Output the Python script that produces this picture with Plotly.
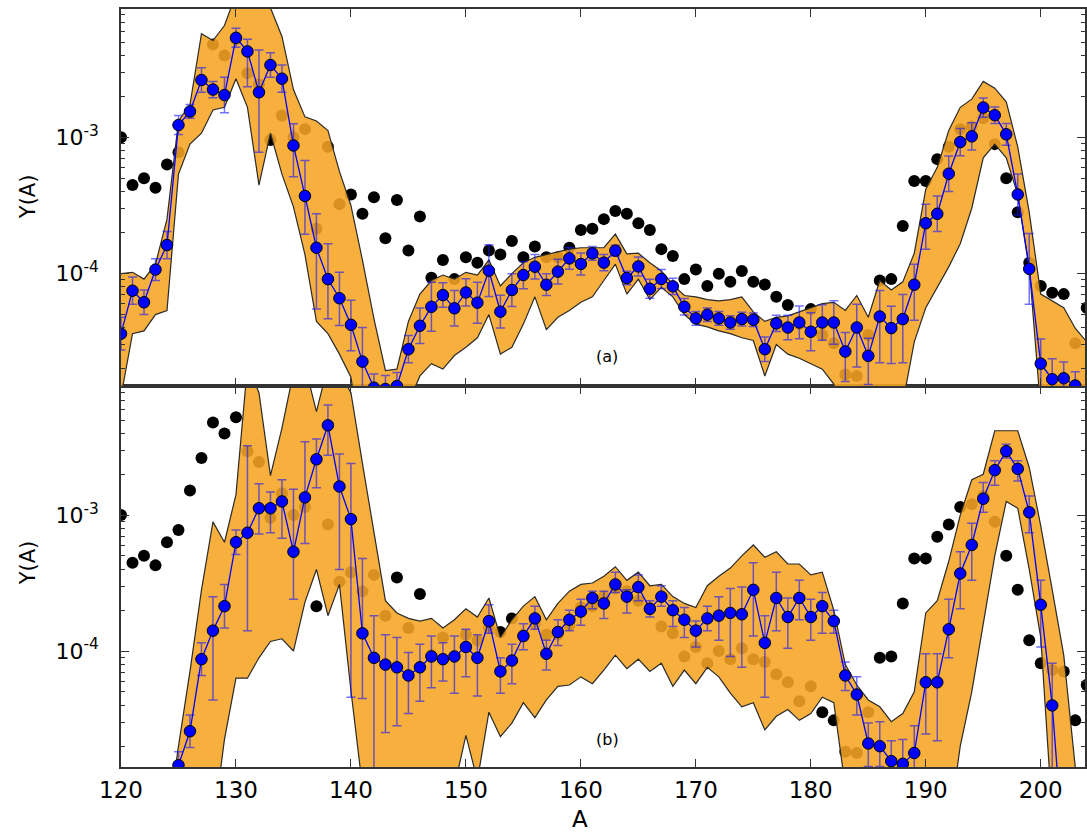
import plotly.graph_objects as go

# ---------------- data (log10 of Y(A)) ----------------
A_model = list(range(120, 204))          # blue points, panel (a)
a_model_log = [-4.44, -4.125, -4.21, -3.97, -3.79, -2.91, -2.81, -2.58, -2.65, -2.69,
               -2.27, -2.37, -2.67, -2.47, -2.57, -3.06, -3.43, -3.81, -4.04, -4.18,
               -4.375, -4.645, -4.836, -4.846, -4.824, -4.554, -4.382, -4.243, -4.157, -4.254,
               -4.138, -4.213, -3.978, -4.279, -4.12, -4.01, -3.949, -4.081, -3.985, -3.888,
               -3.929, -3.851, -3.919, -3.831, -4.032, -3.947, -4.111, -4.039, -4.093, -4.243,
               -4.328, -4.301, -4.328, -4.358, -4.333, -4.338, -4.554, -4.365, -4.395, -4.358,
               -4.426, -4.358, -4.358, -4.571, -4.395, -4.603, -4.314, -4.399, -4.333, -4.081,
               -3.63, -3.561, -3.267, -3.035, -2.993, -2.782, -2.838, -2.978, -3.419, -3.965,
               -4.66, -4.774, -4.767, -4.82]
a_err_up = [.12, .10, .09, .08, .10, .07, .05, .09, .06, .13,
            .07, .09, .31, .09, .10, .16, .26, .25, .26, .19,
            .18, .25, .10, .10, .10, .10, .13, .18, .09, .13,
            .10, .15, .19, .12, .12, .10, .09, .08, .09, .08,
            .08, .05, .06, .04, .05, .07, .07, .07, .06, .06,
            .05, .05, .05, .05, .05, .05, .09, .06, .09, .12,
            .14, .13, .16, .14, .17, .13, .19, .16, .18, .15,
            .14, .13, .13, .10, .10, .07, .06, .08, .15, .26,
            .18, .15, .12, .10]
a_err_dn = [.12, .10, .09, .08, .10, .07, .05, .09, .06, .13,
            .07, .26, .44, .09, .10, .23, .28, .45, .29, .20,
            .19, .19, .10, .10, .10, .10, .13, .18, .09, .13,
            .10, .15, .19, .12, .12, .10, .09, .08, .09, .08,
            .08, .05, .06, .04, .05, .07, .07, .07, .06, .06,
            .05, .05, .05, .05, .05, .05, .09, .06, .09, .12,
            .14, .13, .16, .22, .29, .21, .34, .26, .32, .26,
            .19, .13, .13, .10, .10, .07, .06, .08, .15, .26,
            .18, .15, .12, .10]

A_model_b = list(range(124, 203))        # blue points, panel (b)
b_model_log = [-5.3, -4.84, -4.59, -4.06, -3.85, -3.67, -3.20, -3.13, -2.95, -2.95,
               -2.90, -3.27, -2.87, -2.59, -2.34, -2.79, -3.03, -3.87, -4.05, -4.10,
               -4.12, -4.18, -4.12, -4.04, -4.06, -4.04, -3.97, -4.05, -3.78, -4.15,
               -4.07, -3.89, -3.76, -4.02, -3.86, -3.77, -3.71, -3.61, -3.65, -3.51,
               -3.60, -3.53, -3.69, -3.60, -3.70, -3.77, -3.85, -3.76, -3.74, -3.72,
               -3.73, -3.55, -3.94, -3.61, -3.75, -3.61, -3.75, -3.67, -3.78, -4.18,
               -4.32, -4.68, -4.70, -4.81, -4.83, -4.75, -4.23, -4.23, -3.84, -3.43,
               -3.22, -2.88, -2.67, -2.53, -2.66, -2.98, -3.66, -4.40, -5.5]
b_err_up = [.10, .10, .12, .12, .25, .16, .09, .64, .18, .12,
            .16, .46, .41, .15, .15, .24, .41, .55, .31, .22,
            .22, .17, .17, .15, .12, .15, .13, .17, .12, .10,
            .12, .09, .09, .10, .09, .07, .09, .05, .09, .09,
            .05, .09, .06, .08, .07, .09, .07, .09, .14, .18,
            .20, .20, .20, .19, .14, .13, .13, .10, .08, .10,
            .13, .15, .18, .15, .18, .20, .21, .21, .22, .16,
            .16, .12, .07, .05, .06, .12, .18, .31, .10]
b_err_dn = [.10, .10, .12, .12, .51, .16, .09, .72, .19, .18,
            .27, .35, .34, .21, .22, .61, 1.31, .48, 1.5, .50,
            .43, .28, .25, .23, .16, .27, .22, .28, .09, .16,
            .17, .10, .08, .12, .10, .08, .10, .08, .11, .06,
            .12, .10, .06, .07, .12, .13, .12, .09, .18, .32,
            .39, .34, .40, .24, .23, .16, .17, .20, .09, .11,
            .15, .17, .15, .10, .20, .20, .38, .43, .21, .26,
            .26, .10, .11, .05, .09, .15, .31, 1.0, .10]

A_solar = list(range(120, 205))          # black points (same in both panels)
solar_log = [-3.00, -3.35, -3.30, -3.37, -3.20, -3.11, -2.82, -2.58, -2.32, -2.40,
             -2.28, -2.53, -2.61, -3.02, -2.84, -3.00, -2.94, -3.67, -3.07, -3.49,
             -3.42, -3.56, -3.44, -3.74, -3.46, -3.83, -3.58, -4.03, -3.90, -4.04,
             -3.88, -3.92, -3.83, -3.86, -3.76, -3.88, -3.80, -3.88, -3.88, -3.81,
             -3.68, -3.67, -3.60, -3.54, -3.56, -3.63, -3.68, -3.82, -3.87, -4.04,
             -3.97, -4.09, -4.00, -4.06, -3.98, -4.06, -4.08, -4.17, -4.23, -4.37,
             -4.26, -4.45, -4.51, -4.74, -4.75, -4.45, -4.05, -4.04, -3.65, -3.32,
             -3.32, -3.16, -3.07, -2.94, -2.92, -2.86, -3.05, -3.30, -3.55, -3.92,
             -4.09, -4.14, -4.15, -4.51, -4.25]

A_band = list(range(120, 205))           # orange bands
a_band_hi = [-4.00, -3.99, -4.04, -3.93, -3.60, -2.88, -2.76, -2.24, -2.29, -2.18,
             -1.95, -1.95, -2.00, -2.05, -2.26, -2.65, -2.85, -2.88, -2.95, -3.25,
             -3.50, -3.90, -4.33, -4.71, -4.70, -4.35, -4.15, -4.05, -4.01, -4.04,
             -3.99, -4.01, -3.90, -4.09, -4.00, -3.92, -3.88, -3.86, -3.84, -3.82,
             -3.81, -3.81, -3.81, -3.71, -3.855, -3.85, -3.92, -3.98, -4.08, -4.16,
             -4.17, -4.19, -4.20, -4.19, -4.17, -4.28, -4.35, -4.32, -4.31, -4.28,
             -4.25, -4.22, -4.21, -4.27, -4.16, -4.32, -4.05, -4.12, -4.06, -3.85,
             -3.38, -3.22, -2.95, -2.78, -2.72, -2.59, -2.64, -2.74, -3.07, -3.55,
             -4.15, -4.20, -4.25, -4.40, -4.50]
a_band_lo = [-4.90, -4.44, -4.42, -4.30, -4.27, -3.27, -3.05, -2.97, -2.80, -2.78,
             -2.57, -2.78, -3.35, -2.97, -3.27, -3.51, -3.86, -4.35, -4.44, -4.59,
             -4.76, -5.30, -5.30, -5.30, -5.30, -4.95, -4.75, -4.66, -4.70, -4.60,
             -4.54, -4.47, -4.30, -4.59, -4.54, -4.37, -4.17, -4.41, -4.32, -4.27,
             -4.21, -4.17, -4.05, -3.93, -4.15, -4.04, -4.19, -4.10, -4.17, -4.30,
             -4.37, -4.39, -4.42, -4.44, -4.47, -4.49, -4.75, -4.52, -4.59, -4.62,
             -4.66, -4.70, -4.81, -5.30, -5.30, -5.30, -5.30, -5.30, -4.95, -4.50,
             -4.25, -4.10, -3.95, -3.78, -3.52, -3.15, -3.05, -3.15, -3.42, -3.95,
             -5.00, -5.30, -5.30, -5.30, -5.30]
b_band_hi = [-5.30, -5.30, -5.30, -5.30, -5.30, -4.70, -4.15, -3.55, -3.05, -3.20,
             -2.85, -1.90, -2.10, -2.71, -2.36, -1.95, -1.90, -2.24, -1.90, -1.95,
             -2.10, -2.62, -3.14, -3.63, -3.72, -3.76, -3.78, -3.76, -3.83, -3.77,
             -3.69, -3.75, -3.61, -3.90, -3.77, -3.67, -3.60, -3.77, -3.65, -3.56,
             -3.51, -3.50, -3.45, -3.38, -3.48, -3.42, -3.52, -3.51, -3.60, -3.65,
             -3.68, -3.52, -3.45, -3.39, -3.30, -3.22, -3.31, -3.27, -3.36, -3.36,
             -3.44, -3.42, -3.70, -4.10, -4.25, -4.36, -4.41, -4.52, -4.46, -4.30,
             -3.72, -3.63, -3.34, -3.00, -2.74, -2.70, -2.38, -2.38, -2.38, -2.65,
             -3.08, -3.55, -4.03, -4.85, -5.30]
b_band_lo = [-5.30, -5.30, -5.30, -5.30, -5.30, -5.30, -5.30, -5.30, -5.30, -4.65,
             -4.20, -4.20, -4.05, -3.93, -3.91, -4.00, -3.64, -3.40, -3.74, -3.51,
             -4.29, -5.00, -5.30, -5.30, -5.30, -5.30, -5.30, -5.30, -5.30, -5.00,
             -4.62, -4.95, -4.45, -4.63, -4.53, -4.38, -4.49, -4.36, -4.26, -4.25,
             -4.19, -4.24, -4.14, -4.03, -4.13, -4.06, -4.15, -4.09, -4.26, -4.14,
             -4.24, -4.12, -4.19, -4.31, -4.41, -4.38, -4.58, -4.48, -4.43, -4.51,
             -4.46, -4.34, -4.38, -5.00, -5.30, -5.30, -5.30, -5.30, -5.30, -5.30,
             -5.30, -5.30, -5.30, -4.70, -4.30, -3.80, -3.30, -2.90, -2.95, -3.40,
             -3.90, -5.20, -5.30, -5.30, -5.30]

x_ticks = [120, 130, 140, 150, 160, 170, 180, 190, 200]
y_ticks = [1e-4, 1e-3]
y_tick_text = ["10<sup>-4</sup>", "10<sup>-3</sup>"]
panel_labels = ["(a)", "(b)"]

# ---------------- styling ----------------
FONT = "DejaVu Sans"
BAND_FILL = "rgba(246,164,35,0.88)"
BAND_LINE = "#2a2a2a"
ERR_COLOR = "rgba(20,20,255,0.6)"


def p10(v):
    return [10 ** x for x in v]


def add_panel(fig, xa, ya, A_m, m_log, e_up, e_dn, band_hi, band_lo):
    # black reference points (behind the band)
    fig.add_trace(go.Scatter(x=A_solar, y=p10(solar_log), mode="markers",
                             marker=dict(color="black", size=12, line=dict(width=0)),
                             xaxis=xa, yaxis=ya, showlegend=False, hoverinfo="skip"))
    # orange band
    fig.add_trace(go.Scatter(x=A_band + A_band[::-1],
                             y=p10(band_hi) + p10(band_lo)[::-1],
                             mode="lines", fill="toself", fillcolor=BAND_FILL,
                             line=dict(color=BAND_LINE, width=1.2),
                             xaxis=xa, yaxis=ya, showlegend=False, hoverinfo="skip"))
    y = p10(m_log)
    plus = [yy * (10 ** u - 1) for yy, u in zip(y, e_up)]
    minus = [yy * (1 - 10 ** (-d)) for yy, d in zip(y, e_dn)]
    fig.add_trace(go.Scatter(x=A_m, y=y, mode="lines+markers",
                             line=dict(color="#0000ff", width=1.3),
                             marker=dict(color="#0000ff", size=11.5,
                                         line=dict(color="black", width=1)),
                             error_y=dict(type="data", symmetric=False, array=plus,
                                          arrayminus=minus, color=ERR_COLOR,
                                          thickness=1.5, width=4.5),
                             xaxis=xa, yaxis=ya, showlegend=False, hoverinfo="skip"))


fig = go.Figure()
add_panel(fig, "x2", "y2", A_model, a_model_log, a_err_up, a_err_dn, a_band_hi, a_band_lo)
add_panel(fig, "x", "y", A_model_b, b_model_log, b_err_up, b_err_dn, b_band_hi, b_band_lo)

minor_vals = [k * 10 ** e for e in (-5, -4, -3, -2) for k in range(2, 10)]
xrange_ = [120, 203.85]

common_x = dict(range=xrange_, tickvals=x_ticks, ticks="inside", ticklen=8, tickwidth=1,
                tickcolor="#333", showline=True, linecolor="#333", linewidth=1.5,
                mirror="allticks", showgrid=False, zeroline=False,
                tickfont=dict(family=FONT, size=23, color="black"))
common_y = dict(type="log", tickvals=y_ticks, ticktext=y_tick_text, ticks="inside",
                ticklen=8, tickwidth=1, tickcolor="#333", showline=True,
                linecolor="#333", linewidth=1.5, mirror="allticks", showgrid=False,
                zeroline=False, ticklabelstandoff=16,
                tickfont=dict(family=FONT, size=22, color="black"),
                minor=dict(tickvals=minor_vals, ticks="inside", ticklen=4,
                           tickcolor="#333", showgrid=False))

split = 0.5026
fig.update_layout(
    width=1087, height=833,
    margin=dict(l=121, r=0, t=9, b=66),
    paper_bgcolor="white", plot_bgcolor="white",
    xaxis=dict(common_x, anchor="y", domain=[0, 1], ticklabelstandoff=2),
    yaxis=dict(common_y, anchor="x", domain=[0, split], range=[-4.853, -2.051]),
    xaxis2=dict(common_x, anchor="y2", domain=[0, 1], matches="x", showticklabels=False),
    yaxis2=dict(common_y, anchor="x2", domain=[split, 1], range=[-4.824, -2.059]),
    annotations=[
        dict(text=panel_labels[0], x=162.3, y=-4.61, xref="x2", yref="y2",
             showarrow=False, font=dict(family=FONT, size=16, color="black")),
        dict(text=panel_labels[1], x=162.3, y=-4.65, xref="x", yref="y",
             showarrow=False, font=dict(family=FONT, size=16, color="black")),
        dict(text="Y(A)", x=-0.0963, y=0.752, xref="paper", yref="paper",
             textangle=-90, showarrow=False, xanchor="center", yanchor="middle",
             font=dict(family=FONT, size=21, color="black")),
        dict(text="Y(A)", x=-0.0963, y=0.269, xref="paper", yref="paper",
             textangle=-90, showarrow=False, xanchor="center", yanchor="middle",
             font=dict(family=FONT, size=21, color="black")),
        dict(text="A", x=0.476, y=-0.068, xref="paper", yref="paper",
             showarrow=False, xanchor="center", yanchor="middle",
             font=dict(family=FONT, size=23, color="black")),
    ],
)

fig.write_html("out.html")
